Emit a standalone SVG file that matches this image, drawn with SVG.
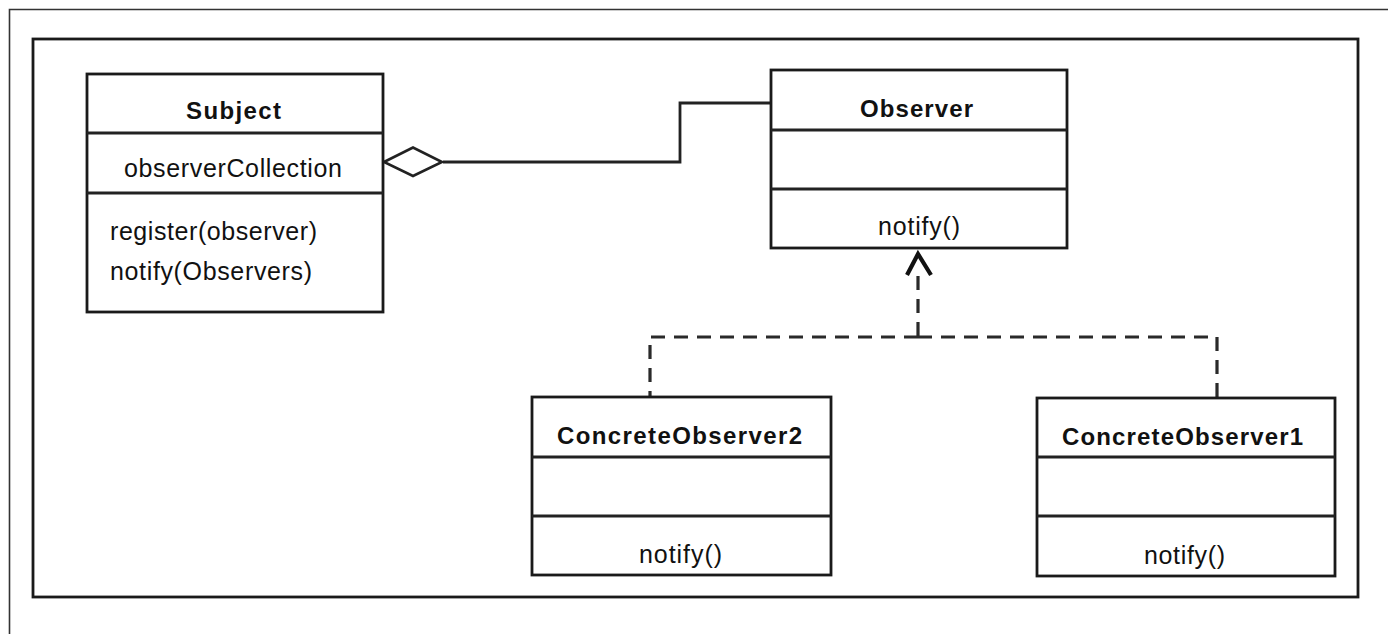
<svg xmlns="http://www.w3.org/2000/svg" width="1388" height="634" viewBox="0 0 1388 634">
<defs>
<style>
.box{fill:#fff;stroke:#1a1a1a;stroke-width:2.8}
.div{stroke:#222;stroke-width:2.8}
.t{font-family:"Liberation Sans",Arial,sans-serif;font-size:25px;fill:#111}
.b{font-family:"Liberation Sans",Arial,sans-serif;font-size:24px;font-weight:bold;fill:#111}
.solid{fill:none;stroke:#222;stroke-width:2.8}
.dash{fill:none;stroke:#2a2a2a;stroke-width:3.2;stroke-dasharray:14 9}
</style>
</defs>
<rect width="1388" height="634" fill="#fff"/>
<g id="frame">
<path d="M9.5 634 V9.5 H1388" fill="none" stroke="#333" stroke-width="1.6"/>
<rect x="33" y="39" width="1325" height="558" fill="none" stroke="#1a1a1a" stroke-width="2.8"/>
</g>
<g id="connectors">
<path class="solid" d="M443 162 H680 V103 H771"/>
<polygon points="384,162 413,147.5 442,162 413,176" fill="#fff" stroke="#222" stroke-width="2.6"/>
<path class="dash" d="M918 276 V337"/>
<path class="dash" d="M918 337 H650 V397"/>
<path class="dash" d="M918 337 H1217 V398"/>
<path d="M907 275 L918 254 L931 275" fill="none" stroke="#111" stroke-width="4.2" stroke-linejoin="miter"/>
</g>
<g id="subject">
<rect class="box" x="87" y="74" width="296" height="238"/>
<line class="div" x1="87" y1="133" x2="383" y2="133"/>
<line class="div" x1="87" y1="193" x2="383" y2="193"/>
<text class="b" x="186" y="119" textLength="95" lengthAdjust="spacing">Subject</text>
<text class="t" x="124" y="177" textLength="218" lengthAdjust="spacing">observerCollection</text>
<text class="t" x="110" y="240" textLength="207" lengthAdjust="spacing">register(observer)</text>
<text class="t" x="110" y="280" textLength="202" lengthAdjust="spacing">notify(Observers)</text>
</g>
<g id="observer">
<rect class="box" x="771" y="70" width="296" height="178"/>
<line class="div" x1="771" y1="130" x2="1067" y2="130"/>
<line class="div" x1="771" y1="189" x2="1067" y2="189"/>
<text class="b" x="860" y="117" textLength="113" lengthAdjust="spacing">Observer</text>
<text class="t" x="878" y="235" textLength="82" lengthAdjust="spacing">notify()</text>
</g>
<g id="concreteObserver2">
<rect class="box" x="532" y="397" width="299" height="178"/>
<line class="div" x1="532" y1="457" x2="831" y2="457"/>
<line class="div" x1="532" y1="516" x2="831" y2="516"/>
<text class="b" x="557" y="444" textLength="245" lengthAdjust="spacing">ConcreteObserver2</text>
<text class="t" x="639" y="563" textLength="83" lengthAdjust="spacing">notify()</text>
</g>
<g id="concreteObserver1">
<rect class="box" x="1037" y="398" width="298" height="178"/>
<line class="div" x1="1037" y1="457" x2="1335" y2="457"/>
<line class="div" x1="1037" y1="516" x2="1335" y2="516"/>
<text class="b" x="1062" y="445" textLength="241" lengthAdjust="spacing">ConcreteObserver1</text>
<text class="t" x="1144" y="564" textLength="81" lengthAdjust="spacing">notify()</text>
</g>
</svg>
